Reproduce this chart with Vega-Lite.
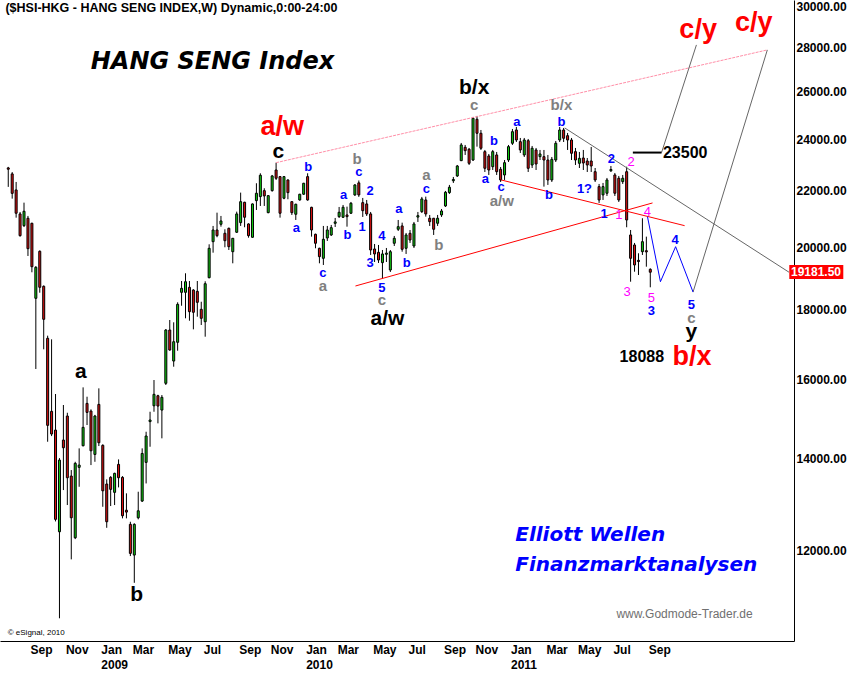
{
"$schema": "https://vega.github.io/schema/vega-lite/v6.json",
"width": 794, "height": 641,
"autosize": "none",
"padding": {"left": 0, "top": 0, "right": 55, "bottom": 32},
"background": "white",
"config": {"view": {"stroke": null}, "font": "Liberation Sans"},
"datasets": {
"candles": [
{"d":"2008-07-28","o":22870,"h":22910,"l":22150,"c":22820},
{"d":"2008-08-04","o":22640,"h":22710,"l":21715,"c":21910},
{"d":"2008-08-11","o":22036,"h":22335,"l":21030,"c":21187},
{"d":"2008-08-18","o":21162,"h":21233,"l":20367,"c":20401},
{"d":"2008-08-25","o":20748,"h":21569,"l":20700,"c":21258},
{"d":"2008-09-01","o":21009,"h":21091,"l":19714,"c":19958},
{"d":"2008-09-08","o":20832,"h":20850,"l":19179,"c":19361},
{"d":"2008-09-15","o":18356,"h":19380,"l":16293,"c":19341},
{"d":"2008-09-22","o":19871,"h":19900,"l":18530,"c":18700},
{"d":"2008-09-29","o":18731,"h":18760,"l":16843,"c":17717},
{"d":"2008-10-06","o":17159,"h":17235,"l":14412,"c":14816},
{"d":"2008-10-13","o":15170,"h":17129,"l":14550,"c":14601},
{"d":"2008-10-20","o":14699,"h":15620,"l":12600,"c":12644},
{"d":"2008-10-27","o":12382,"h":14020,"l":10701,"c":13973},
{"d":"2008-11-03","o":14453,"h":15333,"l":13284,"c":14267},
{"d":"2008-11-10","o":15051,"h":15134,"l":12953,"c":13563},
{"d":"2008-11-17","o":13602,"h":13740,"l":11819,"c":12678},
{"d":"2008-11-24","o":12258,"h":13933,"l":12230,"c":13896},
{"d":"2008-12-01","o":13803,"h":14252,"l":13358,"c":13856},
{"d":"2008-12-08","o":14315,"h":15796,"l":14300,"c":14766},
{"d":"2008-12-15","o":15375,"h":15549,"l":14824,"c":15143},
{"d":"2008-12-22","o":15178,"h":15221,"l":13856,"c":14194},
{"d":"2008-12-29","o":14107,"h":15080,"l":13933,"c":15051},
{"d":"2009-01-05","o":15349,"h":15770,"l":14308,"c":14388},
{"d":"2009-01-12","o":14325,"h":14350,"l":12915,"c":13268},
{"d":"2009-01-19","o":13420,"h":13526,"l":12465,"c":12593},
{"d":"2009-01-26","o":13572,"h":13600,"l":12931,"c":13300},
{"d":"2009-02-02","o":13233,"h":13678,"l":12953,"c":13664},
{"d":"2009-02-09","o":13872,"h":13989,"l":13344,"c":13563},
{"d":"2009-02-16","o":13572,"h":13600,"l":12665,"c":12721},
{"d":"2009-02-23","o":12840,"h":13211,"l":12665,"c":12800},
{"d":"2009-03-02","o":12538,"h":12593,"l":11885,"c":11939},
{"d":"2009-03-09","o":11905,"h":12560,"l":11361,"c":12538},
{"d":"2009-03-16","o":12678,"h":13247,"l":12644,"c":12828},
{"d":"2009-03-23","o":13040,"h":14252,"l":13020,"c":14130},
{"d":"2009-03-30","o":13919,"h":14657,"l":13433,"c":14552},
{"d":"2009-04-06","o":14910,"h":15160,"l":14291,"c":14950},
{"d":"2009-04-13","o":15313,"h":15993,"l":15160,"c":15612},
{"d":"2009-04-20","o":15575,"h":15600,"l":14866,"c":15306},
{"d":"2009-04-27","o":15203,"h":15593,"l":14495,"c":15533},
{"d":"2009-05-04","o":15904,"h":17429,"l":15859,"c":17400},
{"d":"2009-05-11","o":17400,"h":17696,"l":16803,"c":16823},
{"d":"2009-05-18","o":16513,"h":17628,"l":16356,"c":17060},
{"d":"2009-05-25","o":17043,"h":18232,"l":16803,"c":18170},
{"d":"2009-06-01","o":18542,"h":18899,"l":18127,"c":18667},
{"d":"2009-06-08","o":18542,"h":19147,"l":17747,"c":18877},
{"d":"2009-06-15","o":18699,"h":18899,"l":17675,"c":17946},
{"d":"2009-06-22","o":18614,"h":18640,"l":17420,"c":17928},
{"d":"2009-06-29","o":18573,"h":18899,"l":17795,"c":18232},
{"d":"2009-07-06","o":18018,"h":18250,"l":17548,"c":17747},
{"d":"2009-07-13","o":17645,"h":18890,"l":17205,"c":18813},
{"d":"2009-07-20","o":19005,"h":20106,"l":18985,"c":19971},
{"d":"2009-07-27","o":20195,"h":20738,"l":19824,"c":20597},
{"d":"2009-08-03","o":20597,"h":21208,"l":20347,"c":20401},
{"d":"2009-08-10","o":20797,"h":21091,"l":20713,"c":20913},
{"d":"2009-08-17","o":20483,"h":20622,"l":20005,"c":20229},
{"d":"2009-08-24","o":20656,"h":20680,"l":19914,"c":20026},
{"d":"2009-08-31","o":19857,"h":20321,"l":19472,"c":20311},
{"d":"2009-09-07","o":20518,"h":21244,"l":20494,"c":21162},
{"d":"2009-09-14","o":20853,"h":21937,"l":20738,"c":21605},
{"d":"2009-09-21","o":21583,"h":21600,"l":20692,"c":21044},
{"d":"2009-09-28","o":20808,"h":20830,"l":20332,"c":20401},
{"d":"2009-10-05","o":20345,"h":21540,"l":20330,"c":21522},
{"d":"2009-10-12","o":21642,"h":22286,"l":21304,"c":21914},
{"d":"2009-10-19","o":21789,"h":22664,"l":21449,"c":22589},
{"d":"2009-10-26","o":22010,"h":22099,"l":21449,"c":21815},
{"d":"2009-11-02","o":21208,"h":21840,"l":21187,"c":21826},
{"d":"2009-11-09","o":22010,"h":22600,"l":21973,"c":22562},
{"d":"2009-11-16","o":22790,"h":23073,"l":22410,"c":22474},
{"d":"2009-11-23","o":22537,"h":22560,"l":21030,"c":21187},
{"d":"2009-11-30","o":21730,"h":22560,"l":21693,"c":22537},
{"d":"2009-12-07","o":22410,"h":22430,"l":21693,"c":21937},
{"d":"2009-12-14","o":21605,"h":21620,"l":21126,"c":21208},
{"d":"2009-12-21","o":21151,"h":21530,"l":20948,"c":21511},
{"d":"2009-12-28","o":21667,"h":21890,"l":21641,"c":21878},
{"d":"2010-01-04","o":21878,"h":22300,"l":21852,"c":22286},
{"d":"2010-01-11","o":22537,"h":22664,"l":21640,"c":21667},
{"d":"2010-01-18","o":21400,"h":21420,"l":20367,"c":20597},
{"d":"2010-01-25","o":20449,"h":20470,"l":19971,"c":20141},
{"d":"2010-02-01","o":19971,"h":19990,"l":19472,"c":19691},
{"d":"2010-02-08","o":19637,"h":20738,"l":19417,"c":20277},
{"d":"2010-02-15","o":20322,"h":20738,"l":20219,"c":20597},
{"d":"2010-02-22","o":20425,"h":20773,"l":20391,"c":20678},
{"d":"2010-03-01","o":20830,"h":21019,"l":20702,"c":20880},
{"d":"2010-03-08","o":21066,"h":21413,"l":21019,"c":21222},
{"d":"2010-03-15","o":21044,"h":21485,"l":21019,"c":21402},
{"d":"2010-03-22","o":21126,"h":21424,"l":20713,"c":21066},
{"d":"2010-03-29","o":21187,"h":21594,"l":21162,"c":21547},
{"d":"2010-04-05","o":21852,"h":22250,"l":21815,"c":22223},
{"d":"2010-04-12","o":22300,"h":22390,"l":21780,"c":21852},
{"d":"2010-04-19","o":21569,"h":21741,"l":21055,"c":21279},
{"d":"2010-04-26","o":21522,"h":21667,"l":21091,"c":21162},
{"d":"2010-05-03","o":21162,"h":21233,"l":19748,"c":19914},
{"d":"2010-05-10","o":19948,"h":20117,"l":19515,"c":19781},
{"d":"2010-05-17","o":19837,"h":20083,"l":19483,"c":19581},
{"d":"2010-05-24","o":19493,"h":19914,"l":18986,"c":19781},
{"d":"2010-05-31","o":19770,"h":19982,"l":19515,"c":19810},
{"d":"2010-06-07","o":19253,"h":19914,"l":19189,"c":19857},
{"d":"2010-06-14","o":20141,"h":20391,"l":20049,"c":20311},
{"d":"2010-06-21","o":20622,"h":20948,"l":20563,"c":20713},
{"d":"2010-06-28","o":20738,"h":20853,"l":19857,"c":19938},
{"d":"2010-07-05","o":19971,"h":20494,"l":19781,"c":20425},
{"d":"2010-07-12","o":20483,"h":20597,"l":20152,"c":20253},
{"d":"2010-07-19","o":20049,"h":20878,"l":19982,"c":20808},
{"d":"2010-07-26","o":21050,"h":21233,"l":20878,"c":21100},
{"d":"2010-08-02","o":21244,"h":21778,"l":21197,"c":21704},
{"d":"2010-08-09","o":21667,"h":21789,"l":21066,"c":21162},
{"d":"2010-08-16","o":21009,"h":21126,"l":20738,"c":20888},
{"d":"2010-08-23","o":21009,"h":21019,"l":20425,"c":20622},
{"d":"2010-08-30","o":20832,"h":21126,"l":20738,"c":21009},
{"d":"2010-09-06","o":21126,"h":21340,"l":21055,"c":21268},
{"d":"2010-09-13","o":21449,"h":21999,"l":21413,"c":21951},
{"d":"2010-09-20","o":21937,"h":22223,"l":21889,"c":22137},
{"d":"2010-09-27","o":22380,"h":22524,"l":22298,"c":22430},
{"d":"2010-10-04","o":22562,"h":22984,"l":22524,"c":22945},
{"d":"2010-10-11","o":23150,"h":23853,"l":23138,"c":23773},
{"d":"2010-10-18","o":23681,"h":23773,"l":23375,"c":23545},
{"d":"2010-10-25","o":23601,"h":23653,"l":22984,"c":23049},
{"d":"2010-11-01","o":23177,"h":24923,"l":23138,"c":24868},
{"d":"2010-11-08","o":24826,"h":24965,"l":23705,"c":24246},
{"d":"2010-11-15","o":24246,"h":24381,"l":23573,"c":23641},
{"d":"2010-11-22","o":23506,"h":23573,"l":22714,"c":22856},
{"d":"2010-11-29","o":23335,"h":23414,"l":22600,"c":22790},
{"d":"2010-12-06","o":22918,"h":23573,"l":22790,"c":23506},
{"d":"2010-12-13","o":23375,"h":23494,"l":22600,"c":22725},
{"d":"2010-12-20","o":22817,"h":22906,"l":22335,"c":22410},
{"d":"2010-12-27","o":22600,"h":23177,"l":22410,"c":23073},
{"d":"2011-01-03","o":23177,"h":23773,"l":23100,"c":23705},
{"d":"2011-01-10","o":23841,"h":24423,"l":23773,"c":24311},
{"d":"2011-01-17","o":24381,"h":24506,"l":23893,"c":23973},
{"d":"2011-01-24","o":23905,"h":24055,"l":23454,"c":23573},
{"d":"2011-01-31","o":23375,"h":24055,"l":23296,"c":23973},
{"d":"2011-02-07","o":23945,"h":24014,"l":22714,"c":22856},
{"d":"2011-02-14","o":22984,"h":23733,"l":22867,"c":23641},
{"d":"2011-02-21","o":23573,"h":23653,"l":22790,"c":23022},
{"d":"2011-02-28","o":23308,"h":23573,"l":23177,"c":23414},
{"d":"2011-03-07","o":23308,"h":23573,"l":22160,"c":23177},
{"d":"2011-03-14","o":23177,"h":23375,"l":22223,"c":22410},
{"d":"2011-03-21","o":22410,"h":23296,"l":22335,"c":23204},
{"d":"2011-03-28","o":23177,"h":23933,"l":23100,"c":23841},
{"d":"2011-04-04","o":23973,"h":24506,"l":23893,"c":24381},
{"d":"2011-04-11","o":24381,"h":24464,"l":23893,"c":24042},
{"d":"2011-04-18","o":24148,"h":24259,"l":23573,"c":23973},
{"d":"2011-04-25","o":23973,"h":24055,"l":23177,"c":23442},
{"d":"2011-05-02","o":23506,"h":23653,"l":22984,"c":23177},
{"d":"2011-05-09","o":23049,"h":23494,"l":22867,"c":23243},
{"d":"2011-05-16","o":23256,"h":23573,"l":22790,"c":23061},
{"d":"2011-05-23","o":23138,"h":23256,"l":22714,"c":22984},
{"d":"2011-05-30","o":23138,"h":23693,"l":22714,"c":22945},
{"d":"2011-06-06","o":22725,"h":22867,"l":22335,"c":22410},
{"d":"2011-06-13","o":22160,"h":22260,"l":21558,"c":21667},
{"d":"2011-06-20","o":21852,"h":22298,"l":21667,"c":22160},
{"d":"2011-06-27","o":21914,"h":22486,"l":21815,"c":22410},
{"d":"2011-07-04","o":22760,"h":22945,"l":22714,"c":22810},
{"d":"2011-07-11","o":22600,"h":22676,"l":21815,"c":21914},
{"d":"2011-07-18","o":22475,"h":22562,"l":21594,"c":21667},
{"d":"2011-07-25","o":22347,"h":22600,"l":22260,"c":22475},
{"d":"2011-08-01","o":22725,"h":22918,"l":20692,"c":20948},
{"d":"2011-08-08","o":20425,"h":20597,"l":18877,"c":19637},
{"d":"2011-08-15","o":20083,"h":20152,"l":19198,"c":19417},
{"d":"2011-08-22","o":19570,"h":19804,"l":19092,"c":19530},
{"d":"2011-08-29","o":19857,"h":21009,"l":19748,"c":20195},
{"d":"2011-09-05","o":19890,"h":20367,"l":19361,"c":19850},
{"d":"2011-09-12","o":19276,"h":19308,"l":18700,"c":19181.5}
],
"lines": [
{"g":"pink","k":"pink","d":"2009-11-16","v":23073},
{"g":"pink","k":"pink","d":"2012-04-07","v":27906},
{"g":"r1","k":"red","d":"2010-04-06","v":18741},
{"g":"r1","k":"red","d":"2011-09-16","v":21558},
{"g":"r2","k":"red","d":"2010-12-21","v":22410},
{"g":"r2","k":"red","d":"2011-11-12","v":20748},
{"g":"g1","k":"gray","d":"2011-04-13","v":24464},
{"g":"g1","k":"gray","d":"2012-05-15T12:00:00Z","v":19181.5},
{"g":"g2","k":"gray","d":"2011-11-27","v":18550},
{"g":"g2","k":"gray","d":"2012-04-07","v":27906},
{"g":"g3","k":"gray","d":"2011-10-02","v":23470},
{"g":"g3","k":"gray","d":"2011-12-03","v":28142},
{"g":"bl","k":"blue","d":"2011-09-07","v":21066},
{"g":"bl","k":"blue","d":"2011-09-30","v":18877},
{"g":"bl","k":"blue","d":"2011-10-27","v":20026},
{"g":"bl","k":"blue","d":"2011-11-27","v":18550},
{"g":"bk","k":"black","d":"2011-08-12","v":23470},
{"g":"bk","k":"black","d":"2011-10-02","v":23470}
],
"texts": [
{"k":"hdr","t":"($HSI-HKG - HANG SENG INDEX,W) Dynamic,0:00-24:00","d":"2008-07-23","v":29949},
{"k":"title","t":"HANG SENG Index","d":"2009-07-26","v":27343},
{"k":"redbig","t":"a/w","d":"2009-11-27","v":24493},
{"k":"redbig","t":"c/y","d":"2011-12-06","v":28859},
{"k":"redbig","t":"c/y","d":"2012-03-14","v":29187},
{"k":"redbig","t":"b/x","d":"2011-11-25","v":16626},
{"k":"blackbig","t":"c","d":"2009-11-20","v":23506},
{"k":"blackbig","t":"b/x","d":"2010-11-03","v":26172},
{"k":"blackbig","t":"a/w","d":"2010-06-02","v":17718},
{"k":"blackbig","t":"y","d":"2011-11-24","v":17351},
{"k":"blackbig","t":"a","d":"2008-12-04","v":16211},
{"k":"blackbig","t":"b","d":"2009-03-13","v":11129},
{"k":"blacknum","t":"23500","d":"2011-11-13","v":23442},
{"k":"blacknum","t":"18088","d":"2011-08-28","v":16626},
{"k":"gray","t":"c","d":"2010-11-03","v":25433},
{"k":"gray","t":"b/x","d":"2011-04-07","v":25433},
{"k":"gray","t":"b","d":"2010-04-09","v":23204},
{"k":"gray","t":"a","d":"2010-02-07","v":18741},
{"k":"gray","t":"c","d":"2010-05-23","v":18303},
{"k":"gray","t":"a","d":"2010-08-10","v":22600},
{"k":"gray","t":"b","d":"2010-09-01","v":20083},
{"k":"gray","t":"a/w","d":"2010-12-22","v":21631},
{"k":"gray","t":"c","d":"2011-11-24","v":17747},
{"k":"blue","t":"b","d":"2010-01-12","v":22918},
{"k":"blue","t":"a","d":"2009-12-22","v":20678},
{"k":"blue","t":"c","d":"2010-02-07","v":19147},
{"k":"blue","t":"a","d":"2010-03-16","v":21852},
{"k":"blue","t":"b","d":"2010-03-23","v":20425},
{"k":"blue","t":"c","d":"2010-04-12","v":22725},
{"k":"blue","t":"1","d":"2010-04-18","v":20713},
{"k":"blue","t":"2","d":"2010-05-02","v":22010},
{"k":"blue","t":"3","d":"2010-05-02","v":19492},
{"k":"blue","t":"4","d":"2010-05-23","v":20391},
{"k":"blue","t":"5","d":"2010-05-23","v":18668},
{"k":"blue","t":"a","d":"2010-06-22","v":21329},
{"k":"blue","t":"b","d":"2010-07-06","v":19492},
{"k":"blue","t":"c","d":"2010-08-10","v":22062},
{"k":"blue","t":"a","d":"2010-11-23","v":22437},
{"k":"blue","t":"b","d":"2010-12-08","v":23945},
{"k":"blue","t":"c","d":"2010-12-21","v":22137},
{"k":"blue","t":"a","d":"2011-01-18","v":24725},
{"k":"blue","t":"b","d":"2011-03-16","v":21852},
{"k":"blue","t":"b","d":"2011-04-07","v":24725},
{"k":"blue","t":"1?","d":"2011-05-18","v":22073},
{"k":"blue","t":"1","d":"2011-06-22","v":21162},
{"k":"blue","t":"2","d":"2011-07-05","v":23216},
{"k":"blue","t":"3","d":"2011-09-14","v":17976},
{"k":"blue","t":"4","d":"2011-10-26","v":20263},
{"k":"blue","t":"5","d":"2011-11-24","v":18135},
{"k":"mag","t":"2","d":"2011-08-09","v":23100},
{"k":"mag","t":"1","d":"2011-07-18","v":21137},
{"k":"mag","t":"4","d":"2011-09-07","v":21244},
{"k":"mag","t":"3","d":"2011-08-02","v":18560},
{"k":"mag","t":"5","d":"2011-09-14","v":18355},
{"k":"ew","t":"Elliott Wellen","d":"2011-01-15","v":12314},
{"k":"ew","t":"Finanzmarktanalysen","d":"2011-01-15","v":11706},
{"k":"web","t":"www.Godmode-Trader.de","d":"2012-03-12","v":10779},
{"k":"copy","t":"© eSignal, 2010","d":"2008-07-27","v":10439}
],
"tag": [
{"d":"2012-05-16","d2":"2012-08-20","v":19417,"v2":18963,"t":"19181.50","dt":"2012-05-19","vt":19181.5}
]
},
"layer": [
{
"data": {"name": "candles"},
"mark": {"type": "rule", "color": "black", "strokeWidth": 1},
"encoding": {
"x": {"field": "d", "type": "temporal",
"scale": {"type": "utc", "domain": [{"year": 2008, "month": 7, "date": 22, "hours": 5, "utc": true}, {"year": 2012, "month": 5, "date": 15, "hours": 12, "utc": true}]},
"axis": {"title": null, "grid": false, "ticks": false, "tickSize": 0, "domain": true, "domainColor": "black", "domainWidth": 1,
"values": [
{"year":2008,"month":9,"date":1,"utc":true},{"year":2008,"month":11,"date":3,"utc":true},
{"year":2009,"month":1,"date":5,"utc":true},{"year":2009,"month":3,"date":2,"utc":true},{"year":2009,"month":5,"date":4,"utc":true},{"year":2009,"month":7,"date":6,"utc":true},{"year":2009,"month":9,"date":7,"utc":true},{"year":2009,"month":11,"date":2,"utc":true},
{"year":2010,"month":1,"date":4,"utc":true},{"year":2010,"month":3,"date":1,"utc":true},{"year":2010,"month":5,"date":3,"utc":true},{"year":2010,"month":7,"date":5,"utc":true},{"year":2010,"month":9,"date":6,"utc":true},{"year":2010,"month":11,"date":1,"utc":true},
{"year":2011,"month":1,"date":3,"utc":true},{"year":2011,"month":3,"date":7,"utc":true},{"year":2011,"month":5,"date":2,"utc":true},{"year":2011,"month":7,"date":4,"utc":true},{"year":2011,"month":9,"date":5,"utc":true}],
"labelExpr": "utcmonth(datum.value) == 0 ? [utcFormat(datum.value, '%b'), utcFormat(datum.value, '%Y')] : utcFormat(datum.value, '%b')",
"labelAlign": "left", "labelBaseline": "top", "labelOffset": 2, "labelPadding": 3, "labelLineHeight": 15,
"labelFont": "Liberation Sans", "labelFontWeight": "bold", "labelFontSize": 12, "labelColor": "black",
"labelOverlap": false, "labelBound": false, "labelFlush": false}},
"y": {"field": "l", "type": "quantitative",
"scale": {"type": "log", "domain": [10299, 30356], "nice": false, "zero": false},
"axis": {"orient": "right", "title": null, "grid": false, "ticks": false, "tickSize": 0, "domain": true, "domainColor": "black", "domainWidth": 1,
"values": [12000, 14000, 16000, 18000, 20000, 22000, 24000, 26000, 28000, 30000], "format": ".2f",
"labelPadding": 2, "labelFont": "Liberation Sans", "labelFontWeight": "bold", "labelFontSize": 12, "labelColor": "black",
"labelBaseline": "middle", "labelAlign": "left", "labelOverlap": false, "labelBound": false, "labelFlush": false}},
"y2": {"field": "h"}
}
},
{
"data": {"name": "candles"},
"mark": {"type": "bar", "size": 2, "stroke": "black", "strokeWidth": 1},
"encoding": {
"x": {"field": "d", "type": "temporal", "scale": {"type": "utc", "domain": [{"year": 2008, "month": 7, "date": 22, "hours": 5, "utc": true}, {"year": 2012, "month": 5, "date": 15, "hours": 12, "utc": true}]}},
"y": {"field": "o", "type": "quantitative", "scale": {"type": "log", "domain": [10299, 30356], "nice": false, "zero": false}},
"y2": {"field": "c"},
"color": {"condition": {"test": "datum.o > datum.c", "value": "#dd1111"}, "value": "#11cc11"}
}
},
{
"data": {"name": "lines"},
"transform": [{"filter": "datum.k == 'pink'"}],
"mark": {"type": "line", "color": "#ff8fa8", "strokeWidth": 1, "strokeDash": [3, 1]},
"encoding": {
"x": {"field": "d", "type": "temporal", "scale": {"type": "utc", "domain": [{"year": 2008, "month": 7, "date": 22, "hours": 5, "utc": true}, {"year": 2012, "month": 5, "date": 15, "hours": 12, "utc": true}]}},
"y": {"field": "v", "type": "quantitative", "scale": {"type": "log", "domain": [10299, 30356], "nice": false, "zero": false}},
"detail": {"field": "g"}
}
},
{
"data": {"name": "lines"},
"transform": [{"filter": "datum.k == 'red'"}],
"mark": {"type": "line", "color": "#ff0000", "strokeWidth": 1},
"encoding": {
"x": {"field": "d", "type": "temporal", "scale": {"type": "utc", "domain": [{"year": 2008, "month": 7, "date": 22, "hours": 5, "utc": true}, {"year": 2012, "month": 5, "date": 15, "hours": 12, "utc": true}]}},
"y": {"field": "v", "type": "quantitative", "scale": {"type": "log", "domain": [10299, 30356], "nice": false, "zero": false}},
"detail": {"field": "g"}
}
},
{
"data": {"name": "lines"},
"transform": [{"filter": "datum.k == 'gray'"}],
"mark": {"type": "line", "color": "#666666", "strokeWidth": 1},
"encoding": {
"x": {"field": "d", "type": "temporal", "scale": {"type": "utc", "domain": [{"year": 2008, "month": 7, "date": 22, "hours": 5, "utc": true}, {"year": 2012, "month": 5, "date": 15, "hours": 12, "utc": true}]}},
"y": {"field": "v", "type": "quantitative", "scale": {"type": "log", "domain": [10299, 30356], "nice": false, "zero": false}},
"detail": {"field": "g"}
}
},
{
"data": {"name": "lines"},
"transform": [{"filter": "datum.k == 'blue'"}],
"mark": {"type": "line", "color": "#0000ff", "strokeWidth": 1},
"encoding": {
"x": {"field": "d", "type": "temporal", "scale": {"type": "utc", "domain": [{"year": 2008, "month": 7, "date": 22, "hours": 5, "utc": true}, {"year": 2012, "month": 5, "date": 15, "hours": 12, "utc": true}]}},
"y": {"field": "v", "type": "quantitative", "scale": {"type": "log", "domain": [10299, 30356], "nice": false, "zero": false}},
"detail": {"field": "g"}
}
},
{
"data": {"name": "lines"},
"transform": [{"filter": "datum.k == 'black'"}],
"mark": {"type": "line", "color": "#000000", "strokeWidth": 2},
"encoding": {
"x": {"field": "d", "type": "temporal", "scale": {"type": "utc", "domain": [{"year": 2008, "month": 7, "date": 22, "hours": 5, "utc": true}, {"year": 2012, "month": 5, "date": 15, "hours": 12, "utc": true}]}},
"y": {"field": "v", "type": "quantitative", "scale": {"type": "log", "domain": [10299, 30356], "nice": false, "zero": false}},
"detail": {"field": "g"}
}
},
{
"data": {"name": "tag"},
"mark": {"type": "rect", "color": "#ff0000"},
"encoding": {
"x": {"field": "d", "type": "temporal", "scale": {"type": "utc", "domain": [{"year": 2008, "month": 7, "date": 22, "hours": 5, "utc": true}, {"year": 2012, "month": 5, "date": 15, "hours": 12, "utc": true}]}},
"x2": {"field": "d2"},
"y": {"field": "v", "type": "quantitative", "scale": {"type": "log", "domain": [10299, 30356], "nice": false, "zero": false}},
"y2": {"field": "v2"}
}
},
{
"data": {"name": "tag"},
"mark": {"type": "text", "color": "white", "font": "Liberation Sans", "fontWeight": "bold", "fontSize": 12, "align": "left", "baseline": "middle"},
"encoding": {
"x": {"field": "dt", "type": "temporal", "scale": {"type": "utc", "domain": [{"year": 2008, "month": 7, "date": 22, "hours": 5, "utc": true}, {"year": 2012, "month": 5, "date": 15, "hours": 12, "utc": true}]}},
"y": {"field": "vt", "type": "quantitative", "scale": {"type": "log", "domain": [10299, 30356], "nice": false, "zero": false}},
"text": {"field": "t"}
}
},
{
"data": {"name": "texts"},
"transform": [{"filter": "datum.k == 'hdr'"}],
"mark": {"type": "text", "color": "black", "font": "Liberation Sans", "fontWeight": "bold", "fontSize": 12.5, "align": "left", "baseline": "middle"},
"encoding": {
"x": {"field": "d", "type": "temporal", "scale": {"type": "utc", "domain": [{"year": 2008, "month": 7, "date": 22, "hours": 5, "utc": true}, {"year": 2012, "month": 5, "date": 15, "hours": 12, "utc": true}]}},
"y": {"field": "v", "type": "quantitative", "scale": {"type": "log", "domain": [10299, 30356], "nice": false, "zero": false}},
"text": {"field": "t"}
}
},
{
"data": {"name": "texts"},
"transform": [{"filter": "datum.k == 'title'"}],
"mark": {"type": "text", "color": "black", "font": "DejaVu Sans", "fontWeight": "bold", "fontStyle": "oblique", "fontSize": 24, "align": "center", "baseline": "middle"},
"encoding": {
"x": {"field": "d", "type": "temporal", "scale": {"type": "utc", "domain": [{"year": 2008, "month": 7, "date": 22, "hours": 5, "utc": true}, {"year": 2012, "month": 5, "date": 15, "hours": 12, "utc": true}]}},
"y": {"field": "v", "type": "quantitative", "scale": {"type": "log", "domain": [10299, 30356], "nice": false, "zero": false}},
"text": {"field": "t"}
}
},
{
"data": {"name": "texts"},
"transform": [{"filter": "datum.k == 'redbig'"}],
"mark": {"type": "text", "color": "#ff0000", "font": "Liberation Sans", "fontWeight": "bold", "fontSize": 27, "align": "center", "baseline": "middle"},
"encoding": {
"x": {"field": "d", "type": "temporal", "scale": {"type": "utc", "domain": [{"year": 2008, "month": 7, "date": 22, "hours": 5, "utc": true}, {"year": 2012, "month": 5, "date": 15, "hours": 12, "utc": true}]}},
"y": {"field": "v", "type": "quantitative", "scale": {"type": "log", "domain": [10299, 30356], "nice": false, "zero": false}},
"text": {"field": "t"}
}
},
{
"data": {"name": "texts"},
"transform": [{"filter": "datum.k == 'blackbig'"}],
"mark": {"type": "text", "color": "black", "font": "Liberation Sans", "fontWeight": "bold", "fontSize": 21, "align": "center", "baseline": "middle"},
"encoding": {
"x": {"field": "d", "type": "temporal", "scale": {"type": "utc", "domain": [{"year": 2008, "month": 7, "date": 22, "hours": 5, "utc": true}, {"year": 2012, "month": 5, "date": 15, "hours": 12, "utc": true}]}},
"y": {"field": "v", "type": "quantitative", "scale": {"type": "log", "domain": [10299, 30356], "nice": false, "zero": false}},
"text": {"field": "t"}
}
},
{
"data": {"name": "texts"},
"transform": [{"filter": "datum.k == 'blacknum'"}],
"mark": {"type": "text", "color": "black", "font": "Liberation Sans", "fontWeight": "bold", "fontSize": 16, "align": "center", "baseline": "middle"},
"encoding": {
"x": {"field": "d", "type": "temporal", "scale": {"type": "utc", "domain": [{"year": 2008, "month": 7, "date": 22, "hours": 5, "utc": true}, {"year": 2012, "month": 5, "date": 15, "hours": 12, "utc": true}]}},
"y": {"field": "v", "type": "quantitative", "scale": {"type": "log", "domain": [10299, 30356], "nice": false, "zero": false}},
"text": {"field": "t"}
}
},
{
"data": {"name": "texts"},
"transform": [{"filter": "datum.k == 'gray'"}],
"mark": {"type": "text", "color": "#808080", "font": "Liberation Sans", "fontWeight": "bold", "fontSize": 15, "align": "center", "baseline": "middle"},
"encoding": {
"x": {"field": "d", "type": "temporal", "scale": {"type": "utc", "domain": [{"year": 2008, "month": 7, "date": 22, "hours": 5, "utc": true}, {"year": 2012, "month": 5, "date": 15, "hours": 12, "utc": true}]}},
"y": {"field": "v", "type": "quantitative", "scale": {"type": "log", "domain": [10299, 30356], "nice": false, "zero": false}},
"text": {"field": "t"}
}
},
{
"data": {"name": "texts"},
"transform": [{"filter": "datum.k == 'blue'"}],
"mark": {"type": "text", "color": "#0000ff", "font": "Liberation Sans", "fontWeight": "bold", "fontSize": 13, "align": "center", "baseline": "middle"},
"encoding": {
"x": {"field": "d", "type": "temporal", "scale": {"type": "utc", "domain": [{"year": 2008, "month": 7, "date": 22, "hours": 5, "utc": true}, {"year": 2012, "month": 5, "date": 15, "hours": 12, "utc": true}]}},
"y": {"field": "v", "type": "quantitative", "scale": {"type": "log", "domain": [10299, 30356], "nice": false, "zero": false}},
"text": {"field": "t"}
}
},
{
"data": {"name": "texts"},
"transform": [{"filter": "datum.k == 'mag'"}],
"mark": {"type": "text", "color": "#ff00ff", "font": "Liberation Sans", "fontWeight": "normal", "fontSize": 13, "align": "center", "baseline": "middle"},
"encoding": {
"x": {"field": "d", "type": "temporal", "scale": {"type": "utc", "domain": [{"year": 2008, "month": 7, "date": 22, "hours": 5, "utc": true}, {"year": 2012, "month": 5, "date": 15, "hours": 12, "utc": true}]}},
"y": {"field": "v", "type": "quantitative", "scale": {"type": "log", "domain": [10299, 30356], "nice": false, "zero": false}},
"text": {"field": "t"}
}
},
{
"data": {"name": "texts"},
"transform": [{"filter": "datum.k == 'ew'"}],
"mark": {"type": "text", "color": "#0000ff", "font": "DejaVu Sans", "fontWeight": "bold", "fontStyle": "oblique", "fontSize": 20, "align": "left", "baseline": "middle"},
"encoding": {
"x": {"field": "d", "type": "temporal", "scale": {"type": "utc", "domain": [{"year": 2008, "month": 7, "date": 22, "hours": 5, "utc": true}, {"year": 2012, "month": 5, "date": 15, "hours": 12, "utc": true}]}},
"y": {"field": "v", "type": "quantitative", "scale": {"type": "log", "domain": [10299, 30356], "nice": false, "zero": false}},
"text": {"field": "t"}
}
},
{
"data": {"name": "texts"},
"transform": [{"filter": "datum.k == 'web'"}],
"mark": {"type": "text", "color": "#707070", "font": "Liberation Sans", "fontSize": 12, "align": "right", "baseline": "middle"},
"encoding": {
"x": {"field": "d", "type": "temporal", "scale": {"type": "utc", "domain": [{"year": 2008, "month": 7, "date": 22, "hours": 5, "utc": true}, {"year": 2012, "month": 5, "date": 15, "hours": 12, "utc": true}]}},
"y": {"field": "v", "type": "quantitative", "scale": {"type": "log", "domain": [10299, 30356], "nice": false, "zero": false}},
"text": {"field": "t"}
}
},
{
"data": {"name": "texts"},
"transform": [{"filter": "datum.k == 'copy'"}],
"mark": {"type": "text", "color": "black", "font": "Liberation Sans", "fontSize": 8, "align": "left", "baseline": "middle"},
"encoding": {
"x": {"field": "d", "type": "temporal", "scale": {"type": "utc", "domain": [{"year": 2008, "month": 7, "date": 22, "hours": 5, "utc": true}, {"year": 2012, "month": 5, "date": 15, "hours": 12, "utc": true}]}},
"y": {"field": "v", "type": "quantitative", "scale": {"type": "log", "domain": [10299, 30356], "nice": false, "zero": false}},
"text": {"field": "t"}
}
}
]
}
